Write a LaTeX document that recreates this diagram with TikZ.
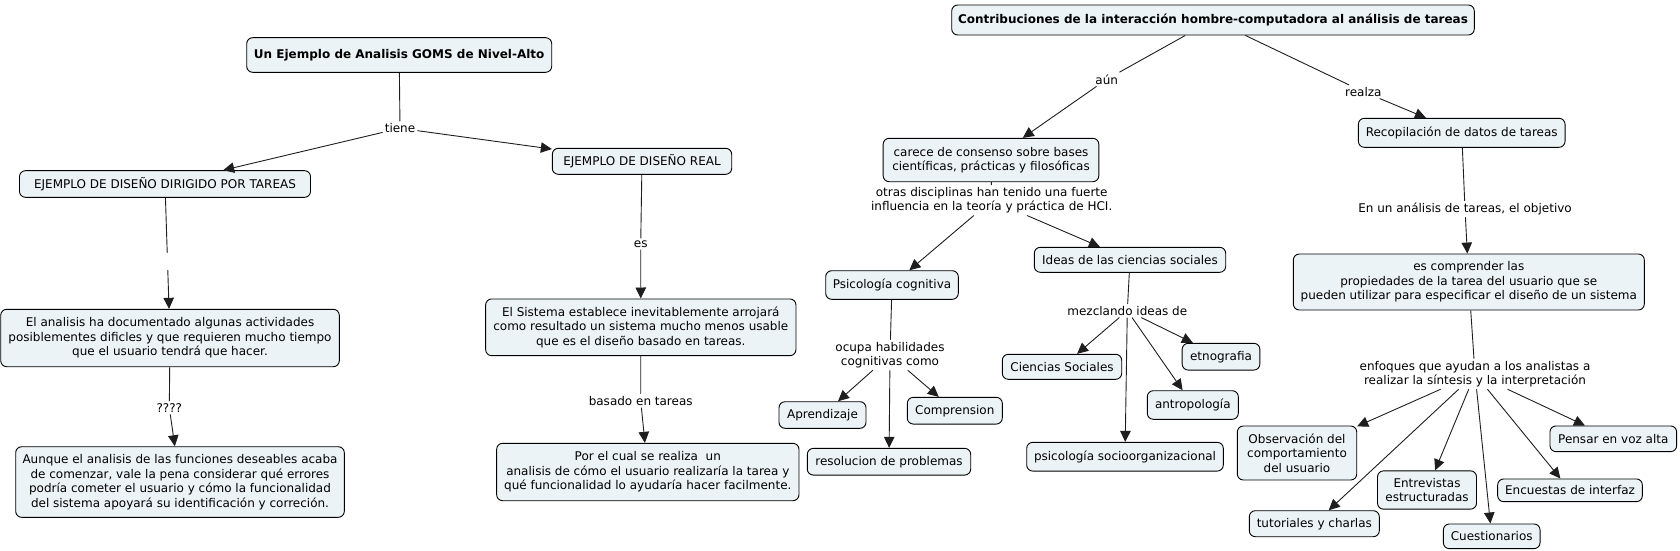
\documentclass[tikz,border=0pt]{standalone}
\usepackage{fontspec}
\setmainfont{DejaVu Sans}
\usetikzlibrary{arrows.meta}
\definecolor{boxfill}{RGB}{236,243,246}
\definecolor{linec}{RGB}{30,30,30}
\tikzset{
  cbox/.style={draw=black, line width=0.9pt, rounded corners=6pt, fill=boxfill,
    inner sep=0pt, align=center, font=\fontsize{12}{14.5}\selectfont, text=black},
  tbox/.style={cbox, font=\fontsize{12}{14.5}\selectfont\bfseries},
  lbl/.style={inner sep=2pt, align=center, font=\fontsize{12}{14.5}\selectfont, text=black},
  conn/.style={draw=linec, line width=0.9pt},
  arr/.style={conn, -{Triangle[length=11pt,width=10.5pt]}}
}
\begin{document}
\begin{tikzpicture}[x=1pt,y=-1pt]
\useasboundingbox (0,0) rectangle (1680,551);
% boxes
\node[tbox, minimum width=305pt, minimum height=34.6pt] (t1) at (399.2,55) {Un Ejemplo de Analisis GOMS de Nivel-Alto};
\node[cbox, minimum width=291pt, minimum height=26.7pt] (dir) at (165,184) {EJEMPLO DE DISEÑO DIRIGIDO POR TAREAS};
\node[cbox, minimum width=179.4pt, minimum height=26pt] (real) at (642,161.3) {EJEMPLO DE DISEÑO REAL};
\node[cbox, minimum width=338.6pt, minimum height=57.4pt] (ana) at (170,338) {El analisis ha documentado algunas actividades\\posiblementes dificles y que requieren mucho tiempo\\que el usuario tendrá que hacer.};
\node[cbox, minimum width=328.6pt, minimum height=70.6pt] (aunq) at (180,482) {Aunque el analisis de las funciones deseables acaba\\de comenzar, vale la pena considerar qué errores\\podría cometer el usuario y cómo la funcionalidad\\del sistema apoyará su identificación y correción.};
\node[cbox, minimum width=310.3pt, minimum height=56.7pt] (sis) at (640.8,327.3) {El Sistema establece inevitablemente arrojará\\como resultado un sistema mucho menos usable\\que es el diseño basado en tareas.};
\node[cbox, minimum width=302.3pt, minimum height=57.4pt] (por) at (647.8,472) {Por el cual se realiza\ \ un\\analisis de cómo el usuario realizaría la tarea y\\qué funcionalidad lo ayudaría hacer facilmente.};
\node[tbox, minimum width=522.6pt, minimum height=30pt] (t2) at (1213,20) {Contribuciones de la interacción hombre-computadora al análisis de tareas};
\node[cbox, minimum width=215.7pt, minimum height=43.4pt] (car) at (991,160) {carece de consenso sobre bases\\científicas, prácticas y filosóficas};
\node[cbox, minimum width=132.6pt, minimum height=28.6pt] (psi) at (892,285) {Psicología cognitiva};
\node[cbox, minimum width=191.4pt, minimum height=25pt] (ide) at (1130,259.8) {Ideas de las ciencias sociales};
\node[cbox, minimum width=87pt, minimum height=26.6pt] (apr) at (822.5,415) {Aprendizaje};
\node[cbox, minimum width=95pt, minimum height=26.7pt] (com) at (954.8,410.7) {Comprension};
\node[cbox, minimum width=163.4pt, minimum height=26.7pt] (res) at (889,461.7) {resolucion de problemas};
\node[cbox, minimum width=119.4pt, minimum height=25pt] (cso) at (1062,366.8) {Ciencias Sociales};
\node[cbox, minimum width=77.7pt, minimum height=26.7pt] (etn) at (1221,356.7) {etnografia};
\node[cbox, minimum width=91pt, minimum height=28.6pt] (ant) at (1192.8,405) {antropología};
\node[cbox, minimum width=196.6pt, minimum height=28.7pt] (pso) at (1125,456.7) {psicología socioorganizacional};
\node[cbox, minimum width=206.7pt, minimum height=29pt] (rec) at (1461.7,132.8) {Recopilación de datos de tareas};
\node[cbox, minimum width=351pt, minimum height=56pt] (esc) at (1468.8,282) {es comprender las\\propiedades de la tarea del usuario que se\\pueden utilizar para especificar el diseño de un sistema};
\node[cbox, minimum width=119.4pt, minimum height=54pt] (obs) at (1297,453) {Observación del\\comportamiento\\del usuario};
\node[cbox, minimum width=130pt, minimum height=26pt] (tut) at (1314.3,523.7) {tutoriales y charlas};
\node[cbox, minimum width=99pt, minimum height=38.3pt] (ent) at (1427,490) {Entrevistas\\estructuradas};
\node[cbox, minimum width=96.7pt, minimum height=24.7pt] (cue) at (1491.7,536.3) {Cuestionarios};
\node[cbox, minimum width=144.7pt, minimum height=22.7pt] (enc) at (1570,490.3) {Encuestas de interfaz};
\node[cbox, minimum width=126.7pt, minimum height=25.7pt] (pen) at (1613.3,438.8) {Pensar en voz alta};
% labels
\node[lbl] (ltiene) at (400,128.3) {tiene};
\node[inner sep=0pt, minimum width=4pt, minimum height=17pt] (lblank) at (167.5,261.5) {};
\node[lbl] (lq) at (169.3,407.7) {????};
\node[lbl] (les) at (640.7,244) {es};
\node[lbl] (lbas) at (640.7,400.7) {basado en tareas};
\node[lbl] (laun) at (1106.7,79.3) {aún};
\node[lbl] (lrea) at (1363.3,91.7) {realza};
\node[lbl] (lotr) at (991.7,200.3) {otras disciplinas han tenido una fuerte\\influencia en la teoría y práctica de HCI.};
\node[lbl] (locu) at (890,355) {ocupa habilidades\\cognitivas como};
\node[lbl] (lmez) at (1127.3,310.7) {mezclando ideas de};
\node[lbl] (lenu) at (1465,209) {En un análisis de tareas, el objetivo};
\node[lbl] (lenf) at (1475,374) {enfoques que ayudan a los analistas a\\realizar la síntesis y la interpretación};
% connectors
\draw[conn] (t1) -- (ltiene);
\draw[arr] (ltiene) -- (dir);
\draw[arr] (ltiene) -- (real);
\draw[conn] (dir) -- (lblank);
\draw[arr] (lblank) -- (ana);
\draw[conn] (ana) -- (lq);
\draw[arr] (lq) -- (aunq);
\draw[conn] (real) -- (les);
\draw[arr] (les) -- (sis);
\draw[conn] (sis) -- (lbas);
\draw[arr] (lbas) -- (por);
\draw[conn] (t2) -- (laun);
\draw[arr] (laun) -- (car);
\draw[conn] (t2) -- (lrea);
\draw[arr] (lrea) -- (rec);
\draw[conn] (car) -- (lotr);
\draw[arr] (lotr) -- (psi);
\draw[arr] (lotr) -- (ide);
\draw[conn] (psi) -- (locu);
\draw[arr] (locu) -- (apr);
\draw[arr] (locu) -- (res);
\draw[arr] (locu) -- (com);
\draw[conn] (ide) -- (lmez);
\draw[arr] (lmez) -- (cso);
\draw[arr] (lmez) -- (pso);
\draw[arr] (lmez) -- (ant);
\draw[arr] (lmez) -- (etn);
\draw[conn] (rec) -- (lenu);
\draw[arr] (lenu) -- (esc);
\draw[conn] (esc) -- (lenf);
\draw[arr] (lenf) -- (obs);
\draw[arr] (lenf) -- (tut);
\draw[arr] (lenf) -- (ent);
\draw[arr] (lenf) -- (cue);
\draw[arr] (lenf) -- (enc);
\draw[arr] (lenf) -- (pen);
\end{tikzpicture}
\end{document}
